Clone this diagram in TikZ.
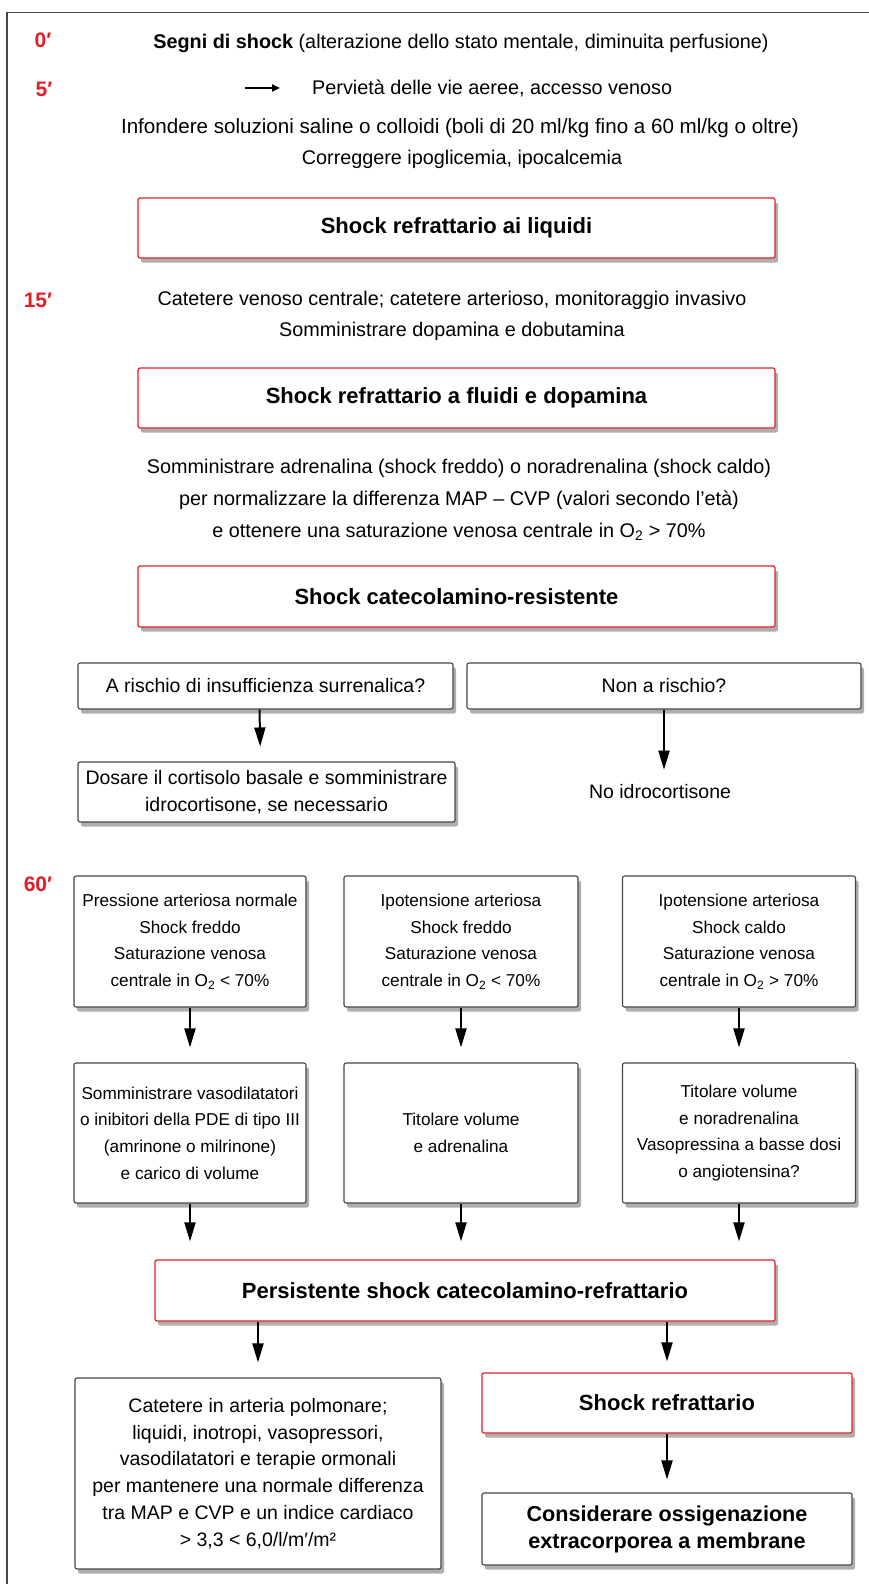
\documentclass[tikz,border=0pt]{standalone}
\usepackage{fontspec}
\setmainfont{Liberation Sans}
\usepackage{xcolor}
\usetikzlibrary{arrows.meta, shadows}
\definecolor{shockred}{RGB}{228,30,38}
\definecolor{framegray}{RGB}{70,70,70}

\begin{document}
\begin{tikzpicture}[x=1pt,y=-1pt,
  txt/.style={font=\fontsize{19.8}{32}\selectfont,align=center,inner sep=0pt},
  time/.style={font=\fontsize{21}{21}\selectfont\bfseries,text=shockred,inner sep=0pt},
  shade/.style={drop shadow={opacity=0.45,fill=black!70,shadow xshift=3pt,shadow yshift=-4.5pt}},
  redbox/.style={shade,draw=shockred,line width=1.2pt,rounded corners=2pt,fill=white,align=center,inner sep=0pt,font=\fontsize{22}{27}\selectfont\bfseries},
  greybox/.style={shade,draw=framegray,line width=1.1pt,rounded corners=2pt,fill=white,align=center,inner sep=0pt,font=\fontsize{19.5}{26.7}\selectfont},
  cond/.style={font=\fontsize{17.2}{26.7}\selectfont},
  arr/.style={line width=2pt,-{Triangle[length=19pt,width=11pt]},shorten >=15pt}
]
\useasboundingbox (0,0) rectangle (869,1584);
\draw[framegray,line width=1.3pt] (7,1584) -- (7,12.5) -- (869,12.5);

\node[time] (t0) at (43,40) {0′};
\node[time] (t5) at (44,89) {5′};
\node[time] (t15) at (38,300) {15′};
\node[time] (t60) at (38,884) {60′};

\node[txt] (segni) at (461,43) {\textbf{Segni di shock} (alterazione dello stato mentale, diminuita perfusione)};
\coordinate (pv) at (245,88);
\node[txt,anchor=west] (perv) at (312,88) {Pervietà delle vie aeree, accesso venoso};
\draw[line width=2.5pt,-{Triangle[length=8pt,width=7pt]},shorten >=32pt] (pv) -- (perv.west);
\node[txt,font=\fontsize{20.6}{32}\selectfont] (infond) at (460,128) {Infondere soluzioni saline o colloidi (boli di 20 ml/kg fino a 60 ml/kg o oltre)};
\node[txt] (corr) at (462,159) {Correggere ipoglicemia, ipocalcemia};

\node[redbox,minimum width=637pt,minimum height=60pt] (liq) at (456.5,228) {Shock refrattario ai liquidi};

\node[txt] (cvc) at (452,300) {Catetere venoso centrale; catetere arterioso, monitoraggio invasivo};
\node[txt] (dopa) at (452,331) {Somministrare dopamina e dobutamina};

\node[redbox,minimum width=637pt,minimum height=60pt] (fluidi) at (456.5,398) {Shock refrattario a fluidi e dopamina};

\node[txt] (adren) at (459,500) {Somministrare adrenalina (shock freddo) o noradrenalina (shock caldo)\\
  per normalizzare la differenza MAP – CVP (valori secondo l’età)\\
  e ottenere una saturazione venosa centrale in O\textsubscript{2} > 70\%};

\node[redbox,minimum width=637pt,minimum height=61pt] (catres) at (456.5,596.5) {Shock catecolamino-resistente};

\node[greybox,minimum width=375pt,minimum height=46pt] (rischio) at (265.5,686) {A rischio di insufficienza surrenalica?};
\node[greybox,minimum width=394pt,minimum height=46pt] (norischio) at (664,686) {Non a rischio?};
\node[greybox,minimum width=377pt,minimum height=60pt] (cortisolo) at (266.5,792) {Dosare il cortisolo basale e somministrare\\idrocortisone, se necessario};
\node[txt,font=\fontsize{19.5}{26.7}\selectfont] (noidro) at (660,792) {No idrocortisone};
\draw[arr] ([xshift=-6pt]rischio.south) -- ([xshift=-6pt]cortisolo.north);
\draw[arr] (norischio.south) -- (norischio.south |- noidro.north);

\node[greybox,cond,minimum width=232pt,minimum height=131pt] (pnorm) at (190,941.5) {Pressione arteriosa normale\\Shock freddo\\Saturazione venosa\\centrale in O\textsubscript{2} < 70\%};
\node[greybox,cond,minimum width=234pt,minimum height=131pt] (ipofr) at (461,941.5) {Ipotensione arteriosa\\Shock freddo\\Saturazione venosa\\centrale in O\textsubscript{2} < 70\%};
\node[greybox,cond,minimum width=233pt,minimum height=131pt] (ipocal) at (739,941.5) {Ipotensione arteriosa\\Shock caldo\\Saturazione venosa\\centrale in O\textsubscript{2} > 70\%};

\node[greybox,cond,minimum width=232pt,minimum height=140pt] (vasod) at (190,1133) {Somministrare vasodilatatori\\o inibitori della PDE di tipo III\\(amrinone o milrinone)\\e carico di volume};
\node[greybox,cond,minimum width=234pt,minimum height=140pt] (titadr) at (461,1133) {Titolare volume\\e adrenalina};
\node[greybox,cond,minimum width=233pt,minimum height=140pt] (titnor) at (739,1133) {Titolare volume\\e noradrenalina\\Vasopressina a basse dosi\\o angiotensina?};

\draw[arr] (pnorm) -- (vasod);
\draw[arr] (ipofr) -- (titadr);
\draw[arr] (ipocal) -- (titnor);

\node[redbox,minimum width=620pt,minimum height=61pt] (persist) at (465,1290.5) {Persistente shock catecolamino-refrattario};
\draw[arr,shorten >=18pt] (vasod.south) -- (vasod.south |- persist.north);
\draw[arr,shorten >=18pt] (titadr.south) -- (titadr.south |- persist.north);
\draw[arr,shorten >=18pt] (titnor.south) -- (titnor.south |- persist.north);

\node[greybox,minimum width=366pt,minimum height=191pt] (polm) at (258,1473.5) {Catetere in arteria polmonare;\\liquidi, inotropi, vasopressori,\\vasodilatatori e terapie ormonali\\per mantenere una normale differenza\\tra MAP e CVP e un indice cardiaco\\> 3,3 < 6,0/l/m′/m²};
\node[redbox,minimum width=370pt,minimum height=60pt] (refr) at (667,1403) {Shock refrattario};
\node[greybox,minimum width=370pt,minimum height=72pt,font=\fontsize{21.6}{27}\selectfont\bfseries] (ecmo) at (667,1529) {Considerare ossigenazione\\extracorporea a membrane};

\draw[arr] (persist.south -| polm) -- (polm.north);
\draw[arr,shorten >=11pt] (persist.south -| refr) -- (refr.north);
\draw[arr,shorten >=13pt] (refr) -- (ecmo);
\end{tikzpicture}
\end{document}
